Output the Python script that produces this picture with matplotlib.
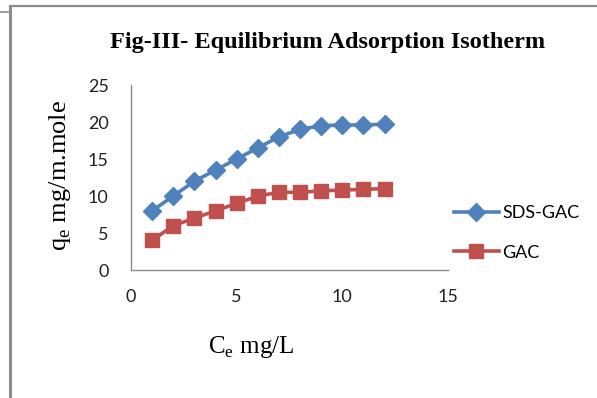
import matplotlib
matplotlib.use("Agg")
import matplotlib.pyplot as plt
from matplotlib.lines import Line2D

plt.rcParams["mathtext.fontset"] = "custom"
plt.rcParams["mathtext.rm"] = "Liberation Serif"

ce = [1, 2, 3, 4, 5, 6, 7, 8, 9, 10, 11, 12]
sds_gac = [8, 10, 12, 13.5, 15, 16.5, 18, 19, 19.5, 19.6, 19.6, 19.7]
gac = [4, 6, 7, 8, 9, 10, 10.5, 10.5, 10.7, 10.8, 10.9, 11]
xticks = [0, 5, 10, 15]
yticks = [0, 5, 10, 15, 20, 25]

blue = "#4F81BD"
red = "#C0504D"
tickfont = "Lato"

fig = plt.figure(figsize=(5.97, 3.98), dpi=100)
fig.patch.set_facecolor("white")

# frame lines
fig.add_artist(Line2D([0.017, 0.017], [0.0, 0.985], transform=fig.transFigure, color="#8c8c8c", lw=2.2))
fig.add_artist(Line2D([0.017, 1.0], [0.985, 0.985], transform=fig.transFigure, color="#8c8c8c", lw=1.6))
fig.add_artist(Line2D([0.0, 0.013], [0.97, 0.97], transform=fig.transFigure, color="#8c8c8c", lw=1.2))

ax = fig.add_axes([0.2194, 0.3216, 0.531, 0.4648])
ax.plot(ce, sds_gac, color=blue, lw=2.6, marker="D", markersize=9, label="SDS-GAC")
ax.plot(ce, gac, color=red, lw=2.6, marker="s", markersize=10.5, label="GAC")

ax.set_xlim(0, 15)
ax.set_ylim(0, 25)
ax.set_xticks(xticks)
ax.set_yticks(yticks)
ax.set_xticklabels([str(v) for v in xticks], fontsize=13, family=tickfont, color="#222222")
ax.set_yticklabels([str(v) for v in yticks], fontsize=13, family=tickfont, color="#222222")
ax.tick_params(length=0, pad=14)
ax.tick_params(axis="y", pad=16)
for s in ["top", "right"]:
    ax.spines[s].set_visible(False)
for s in ["left", "bottom"]:
    ax.spines[s].set_color("#8c8c8c")
    ax.spines[s].set_linewidth(1.0)

fig.text(0.549, 0.893, "Fig-III- Equilibrium Adsorption Isotherm", ha="center", va="center",
         fontsize=17.5, fontweight="bold", family="Liberation Serif")
fig.text(0.421, 0.128, r"C$_\mathregular{e}$ mg/L", ha="center", va="center",
         fontsize=18, family="Liberation Serif")
fig.text(0.101, 0.56, r"q$_\mathregular{e}$ mg/m.mole", ha="center", va="center", rotation=90,
         fontsize=19, family="Liberation Serif")

leg = fig.legend(handles=ax.get_lines(), loc="center left", bbox_to_anchor=(0.733, 0.415),
                 frameon=False, prop={"family": tickfont, "size": 13}, handlelength=2.5,
                 handletextpad=0.2, labelspacing=1.3)

fig.savefig("out.png", dpi=100, facecolor="white")
